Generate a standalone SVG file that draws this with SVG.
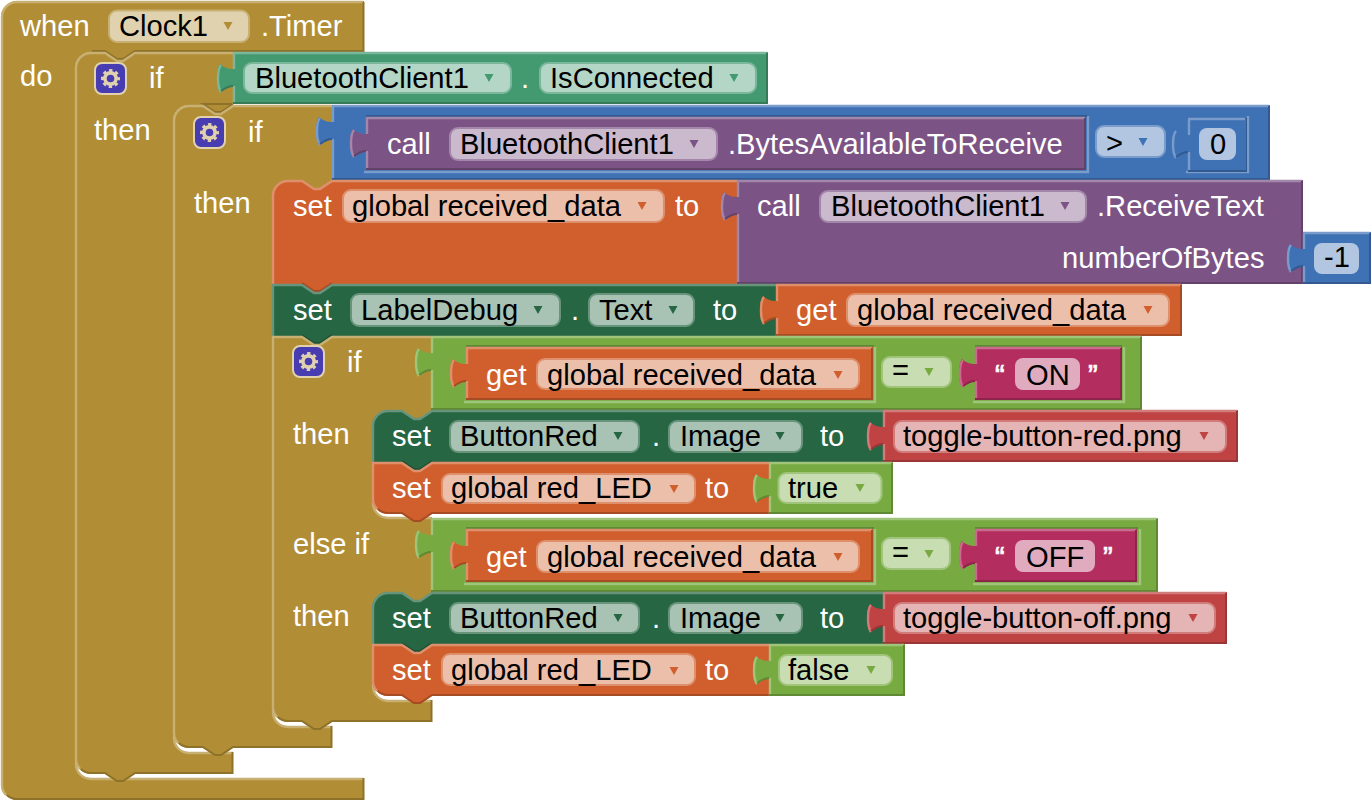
<svg xmlns="http://www.w3.org/2000/svg" width="1372" height="800" viewBox="0 0 1372 800">
<style>
text{font-family:"Liberation Sans",Arial,sans-serif;font-size:29.15px;fill:#fff}
text.k{fill:#000}
text.q{stroke:#fff;stroke-width:.7}
.gold{--c:#B18E35;--l:#C8B072;--d:#8E722A;--p:#E0D2AE}
.teal{--c:#439970;--l:#7BB89B;--d:#367A5A;--p:#B4D6C6}
.dkg{--c:#266643;--l:#67947B;--d:#1E5236;--p:#A8C2B4}
.org{--c:#D05F2D;--l:#DE8F6C;--d:#A64C24;--p:#ECBFAB}
.pur{--c:#7C5385;--l:#A387AA;--d:#63426A;--p:#CBBACE}
.blu{--c:#3F71B5;--l:#799CCB;--d:#325A91;--p:#B2C6E1}
.grn{--c:#77AB41;--l:#A0C47A;--d:#5F8934;--p:#C9DDB3}
.mag{--c:#B32D5E;--l:#CA6C8E;--d:#8F244B;--p:#E1ABBF}
.red{--c:#BF4343;--l:#D27B7B;--d:#993636;--p:#E5B4B4}
.f{fill:var(--c)}
.l{fill:none;stroke:var(--l);stroke-width:2.4}
.d{fill:none;stroke:var(--d);stroke-width:2}
.a{fill:var(--c)}
.fd{fill:var(--p);stroke:var(--l);stroke-width:2}
.fp{fill:var(--p)}
</style>
<defs>
<path id="tri" d="M-4.500,-4h9l-4.500,8z"/>
<path id="tl" d="M-12,13c-2,2-3,8-3,14c0,6 1,10 3,13"/>
<path id="td" d="M-12,39c4,-3 8,-5 12,-5"/>
<g id="gear">
<rect x="1" y="1" width="31" height="31" rx="7" fill="#483DB0" stroke="#E0D2AE" stroke-width="2"/>
<circle cx="16.500" cy="16.500" r="5.600" fill="none" stroke="#E0D2AE" stroke-width="3.600"/>
<circle cx="16.500" cy="16.500" r="8" fill="none" stroke="#E0D2AE" stroke-width="3" stroke-dasharray="3.3 2.98" stroke-dashoffset="1.65"/>
</g>
</defs>

<g id="when" class="gold">
<path class="f" d="M1,17a16,16 0 0 1 16,-16H364V52H135l-12,8-6,0-12,-8H91a16,16 0 0 0-16,16V762a16,16 0 0 0 16,16H364V800H17a16,16 0 0 1-16,-16Z"/>
<path class="l" d="M6,795a15,15 0 0 1-4,-11V17a15,15 0 0 1 15,-15H363M76,763a15,15 0 0 0 15,16H363"/>
<path class="d" d="M363.500,2V51H135l-12,8-6,0-12,-8H92M363.500,778V799H18a15,15 0 0 1-11,-4"/>
<text x="20" y="36">when</text>
<rect class="fd" x="109" y="10.500" width="140" height="31.500" rx="8"/>
<text class="k" x="119" y="36">Clock1</text><use href="#tri" x="228" y="26" class="a"/>
<text x="261" y="36">.Timer</text>
<text x="20" y="86">do</text>
</g>

<g id="if1" class="gold">
<path class="f" d="M75,68a16,16 0 0 1 16,-16H105l12,8 6,0 12,-8H233V105l-12,8-6,0-12,-8H189a16,16 0 0 0-16,16V736a16,16 0 0 0 16,16H233V774H135l-12,8-6,0-12,-8H91a16,16 0 0 1-16,-16Z"/>
<path class="l" d="M80,769a15,15 0 0 1-4,-11V68a15,15 0 0 1 15,-15H105l12,8 6,0 12,-8H233M174,737a15,15 0 0 0 15,16H233"/>
<path class="d" d="M232.500,752V773H135l-12,8-6,0-12,-8H92a15,15 0 0 1-11,-4M232,104H203l12,8 6,0 12,-8"/>
<use href="#gear" x="94" y="62"/>
<text x="149" y="88">if</text>
<text x="94" y="140">then</text>
</g>

<g id="isconnected" class="teal">
<path class="f" d="M233,52V69c-4,0-9,-1-13,-5c-2,2-3,8-3,14c0,6 1,11 3,14c4,-3 9,-6 13,-6V104H768V52Z"/>
<path class="l" d="M233,53H767M234,53V69M234,86V104"/>
<path class="d" d="M767,53V103H233"/>
<use href="#tl" x="233" y="52" class="l"/><use href="#td" x="233" y="52" class="d"/>
<rect class="fd" x="244" y="63" width="267" height="30" rx="8"/>
<text class="k" x="255" y="88">BluetoothClient1</text><use href="#tri" x="489" y="78" class="a"/>
<text x="521" y="88">.</text>
<rect class="fd" x="540" y="63" width="216" height="30" rx="8"/>
<text class="k" x="550" y="88">IsConnected</text><use href="#tri" x="734" y="78" class="a"/>
</g>

<g id="if2" class="gold">
<path class="f" d="M173,121a16,16 0 0 1 16,-16H203l12,8 6,0 12,-8H332V180l-12,8-6,0-12,-8H288a16,16 0 0 0-16,16V710a16,16 0 0 0 16,16H332V748H233l-12,8-6,0-12,-8H189a16,16 0 0 1-16,-16Z"/>
<path class="l" d="M178,743a15,15 0 0 1-4,-11V121a15,15 0 0 1 15,-15H203l12,8 6,0 12,-8H332M273,711a15,15 0 0 0 15,16H332"/>
<path class="d" d="M331.500,726V747H233l-12,8-6,0-12,-8H190a15,15 0 0 1-11,-4"/>
<use href="#gear" x="193" y="116"/>
<text x="248" y="142">if</text>
<text x="194" y="213">then</text>
</g>

<g id="compare1" class="blu">
<path class="f" d="M332,105V122c-4,0-9,-1-13,-5c-2,2-3,8-3,14c0,6 1,11 3,14c4,-3 9,-6 13,-6V180H1270V105Z"/>
<path class="l" d="M332,106H1269M333,106V122M333,139V180M364,172H1088V116M1186,172H1248V116"/>
<path class="d" d="M1269,106V179H332M366,116H1087M1188,171H1246V118"/>
<use href="#tl" x="332" y="105" class="l"/><use href="#td" x="332" y="105" class="d"/>
<rect class="fd" x="1096" y="126" width="69" height="31" rx="8"/>
<text class="k" x="1106" y="153">&gt;</text><use href="#tri" x="1143" y="142" class="a"/>
</g>

<g id="bytesavailable" class="pur">
<path class="f" d="M366,117V134c-4,0-9,-1-13,-5c-2,2-3,8-3,14c0,6 1,11 3,14c4,-3 9,-6 13,-6V170H1086V117Z"/>
<path class="l" d="M366,118H1085M367,118V134M367,151V170"/>
<path class="d" d="M1085,118V169H366"/>
<use href="#tl" x="366" y="117" class="l"/><use href="#td" x="366" y="117" class="d"/>
<text x="387" y="154">call</text>
<rect class="fd" x="450" y="128" width="267" height="32" rx="8"/>
<text class="k" x="460" y="154">BluetoothClient1</text><use href="#tri" x="694" y="144" class="a"/>
<text x="728" y="154">.BytesAvailableToReceive</text>
</g>

<g id="zero" class="blu">
<path class="f" d="M1188,118V135c-4,0-9,-1-13,-5c-2,2-3,8-3,14c0,6 1,11 3,14c4,-3 9,-6 13,-6V170H1246V118Z"/>
<path class="l" d="M1188,119H1245M1189,119V135M1189,152V170"/>
<use href="#tl" x="1188" y="118" class="l"/><use href="#td" x="1188" y="118" class="d"/>
<rect class="fp" x="1199" y="128" width="37" height="32" rx="8"/>
<text class="k" x="1210" y="154">0</text>
</g>

<g id="set-received" class="org">
<path class="f" d="M272,196a16,16 0 0 1 16,-16H302l12,8 6,0 12,-8H737V284H332l-12,8-6,0-12,-8H272Z"/>
<path class="l" d="M273,284V196a15,15 0 0 1 15,-15H302l12,8 6,0 12,-8H737"/>
<path class="d" d="M332,283l-12,8-6,0-12,-8"/>
<text x="293" y="216">set</text>
<rect class="fd" x="343" y="190" width="321" height="32" rx="8"/>
<text class="k" x="352" y="216">global received_data</text><use href="#tri" x="642" y="206" class="a"/>
<text x="675" y="216">to</text>
</g>

<g id="receivetext" class="pur">
<path class="f" d="M737,180V197c-4,0-9,-1-13,-5c-2,2-3,8-3,14c0,6 1,11 3,14c4,-3 9,-6 13,-6V284H1303V180Z"/>
<path class="l" d="M737,181H1302M738,181V197M738,214V284"/>
<path class="d" d="M1302,181V283H737"/>
<use href="#tl" x="737" y="180" class="l"/><use href="#td" x="737" y="180" class="d"/>
<text x="757" y="216">call</text>
<rect class="fd" x="820" y="191" width="266" height="31" rx="8"/>
<text class="k" x="831" y="216">BluetoothClient1</text><use href="#tri" x="1065" y="206" class="a"/>
<text x="1097" y="216">.ReceiveText</text>
<text x="1062" y="268">numberOfBytes</text>
</g>

<g id="minus-one" class="blu">
<path class="f" d="M1303,232V249c-4,0-9,-1-13,-5c-2,2-3,8-3,14c0,6 1,11 3,14c4,-3 9,-6 13,-6V284H1371V232Z"/>
<path class="l" d="M1303,233H1370M1304,233V249M1304,266V284"/>
<path class="d" d="M1370,233V283H1303"/>
<use href="#tl" x="1303" y="232" class="l"/><use href="#td" x="1303" y="232" class="d"/>
<rect class="fp" x="1314" y="243" width="45" height="31" rx="8"/>
<text class="k" x="1324" y="267">-1</text>
</g>

<g id="set-labeldebug" class="dkg">
<path class="f" d="M272,284H302l12,8 6,0 12,-8H776V336H332l-12,8-6,0-12,-8H272Z"/>
<path class="l" d="M273,336V285H302l12,8 6,0 12,-8H776"/>
<path class="d" d="M332,335l-12,8-6,0-12,-8"/>
<text x="293" y="320">set</text>
<rect class="fd" x="351" y="294" width="209" height="32" rx="8"/>
<text class="k" x="361" y="320">LabelDebug</text><use href="#tri" x="538" y="310" class="a"/>
<text x="571" y="320">.</text>
<rect class="fd" x="589" y="294" width="105" height="32" rx="8"/>
<text class="k" x="599" y="320">Text</text><use href="#tri" x="673" y="310" class="a"/>
<text x="713" y="320">to</text>
</g>

<g id="get1" class="org">
<path class="f" d="M776,284V301c-4,0-9,-1-13,-5c-2,2-3,8-3,14c0,6 1,11 3,14c4,-3 9,-6 13,-6V336H1182V284Z"/>
<path class="l" d="M776,285H1181M777,285V301M777,318V336"/>
<path class="d" d="M1181,285V335H776"/>
<use href="#tl" x="776" y="284" class="l"/><use href="#td" x="776" y="284" class="d"/>
<text x="796" y="320">get</text>
<rect class="fd" x="847" y="294" width="322" height="32" rx="8"/>
<text class="k" x="857" y="320">global received_data</text><use href="#tri" x="1148" y="310" class="a"/>
</g>

<g id="if3" class="gold">
<path class="f" d="M272,336H302l12,8 6,0 12,-8H432V410l-12,8-6,0-12,-8H388a16,16 0 0 0-16,16V501a16,16 0 0 0 16,16H432V592l-12,8-6,0-12,-8H388a16,16 0 0 0-16,16V684a16,16 0 0 0 16,16H432V722H332l-12,8-6,0-12,-8H288a16,16 0 0 1-16,-16Z"/>
<path class="l" d="M277,717a15,15 0 0 1-4,-11V337H302l12,8 6,0 12,-8H431M373,502a15,15 0 0 0 15,16H431M373,685a15,15 0 0 0 15,16H431"/>
<path class="d" d="M431.500,700V721H332l-12,8-6,0-12,-8H289a15,15 0 0 1-11,-4"/>
<use href="#gear" x="292" y="345"/>
<text x="347" y="372">if</text>
<text x="293" y="444">then</text>
<text x="293" y="554">else if</text>
<text x="293" y="626">then</text>
</g>

<g id="compare2" class="grn">
<path class="f" d="M431,336V353c-4,0-9,-1-13,-5c-2,2-3,8-3,14c0,6 1,11 3,14c4,-3 9,-6 13,-6V410H1142V336Z"/>
<path class="l" d="M431,337H1141M432,337V353M432,370V410M464,402H875V347M973,402H1124V347"/>
<path class="d" d="M1141,337V409H431M466,346H874M975,346H1122"/>
<use href="#tl" x="431" y="336" class="l"/><use href="#td" x="431" y="336" class="d"/>
<rect class="fd" x="882" y="357" width="69" height="30" rx="8"/>
<text class="k" x="892" y="380">=</text><use href="#tri" x="929" y="372" class="a"/>
</g>

<g id="get2" class="org">
<path class="f" d="M466,347V364c-4,0-9,-1-13,-5c-2,2-3,8-3,14c0,6 1,11 3,14c4,-3 9,-6 13,-6V400H873V347Z"/>
<path class="l" d="M466,348H872M467,348V364M467,381V400"/>
<path class="d" d="M872,348V399H466"/>
<use href="#tl" x="466" y="347" class="l"/><use href="#td" x="466" y="347" class="d"/>
<text x="486" y="385">get</text>
<rect class="fd" x="537" y="359" width="322" height="30" rx="8"/>
<text class="k" x="547" y="385">global received_data</text><use href="#tri" x="838" y="375" class="a"/>
</g>

<g id="text-on" class="mag">
<path class="f" d="M975,347V364c-4,0-9,-1-13,-5c-2,2-3,8-3,14c0,6 1,11 3,14c4,-3 9,-6 13,-6V400H1122V347Z"/>
<path class="l" d="M975,348H1121M976,348V364M976,381V400"/>
<path class="d" d="M1121,348V399H975"/>
<use href="#tl" x="975" y="347" class="l"/><use href="#td" x="975" y="347" class="d"/>
<text class="q" x="995" y="385">“</text>
<rect class="fp" x="1015" y="358" width="65" height="32" rx="8"/>
<text class="k" x="1026" y="385">ON</text>
<text class="q" x="1088" y="385">”</text>
</g>

<g id="set-image1" class="dkg">
<path class="f" d="M372,426a16,16 0 0 1 16,-16H402l12,8 6,0 12,-8H883V462H432l-12,8-6,0-12,-8H372Z"/>
<path class="l" d="M373,462V426a15,15 0 0 1 15,-15H402l12,8 6,0 12,-8H883"/>
<path class="d" d="M432,461l-12,8-6,0-12,-8"/>
<text x="392" y="446">set</text>
<rect class="fd" x="450" y="421" width="189" height="31" rx="8"/>
<text class="k" x="460" y="446">ButtonRed</text><use href="#tri" x="618" y="436" class="a"/>
<text x="652" y="446">.</text>
<rect class="fd" x="669" y="421" width="133" height="31" rx="8"/>
<text class="k" x="680" y="446">Image</text><use href="#tri" x="780" y="436" class="a"/>
<text x="820" y="446">to</text>
</g>

<g id="file-red" class="red">
<path class="f" d="M883,410V427c-4,0-9,-1-13,-5c-2,2-3,8-3,14c0,6 1,11 3,14c4,-3 9,-6 13,-6V462H1238V410Z"/>
<path class="l" d="M883,411H1237M884,411V427M884,444V462"/>
<path class="d" d="M1237,411V461H883"/>
<use href="#tl" x="883" y="410" class="l"/><use href="#td" x="883" y="410" class="d"/>
<rect class="fd" x="894" y="421" width="332" height="31" rx="8"/>
<text class="k" x="903" y="446">toggle-button-red.png</text><use href="#tri" x="1204" y="436" class="a"/>
</g>

<g id="set-led1" class="org">
<path class="f" d="M372,462H402l12,8 6,0 12,-8H769V514H432l-12,8-6,0-12,-8H388a16,16 0 0 1-16,-16Z"/>
<path class="l" d="M377,509a15,15 0 0 1-4,-11V463H402l12,8 6,0 12,-8H769"/>
<path class="d" d="M769,513H432l-12,8-6,0-12,-8H389a15,15 0 0 1-11,-4"/>
<text x="392" y="498">set</text>
<rect class="fd" x="442" y="474" width="253" height="29" rx="8"/>
<text class="k" x="451" y="498">global red_LED</text><use href="#tri" x="674" y="489" class="a"/>
<text x="705" y="498">to</text>
</g>

<g id="bool-true" class="grn">
<path class="f" d="M769,462V479c-4,0-9,-1-13,-5c-2,2-3,8-3,14c0,6 1,11 3,14c4,-3 9,-6 13,-6V514H893V462Z"/>
<path class="l" d="M769,463H892M770,463V479M770,496V514"/>
<path class="d" d="M892,463V513H769"/>
<use href="#tl" x="769" y="462" class="l"/><use href="#td" x="769" y="462" class="d"/>
<rect class="fd" x="778.500" y="473" width="103" height="30" rx="8"/>
<text class="k" x="788" y="498">true</text><use href="#tri" x="860" y="488" class="a"/>
</g>

<g id="compare3" class="grn">
<path class="f" d="M431,518V535c-4,0-9,-1-13,-5c-2,2-3,8-3,14c0,6 1,11 3,14c4,-3 9,-6 13,-6V592H1158V518Z"/>
<path class="l" d="M431,519H1157M432,519V535M432,552V592M464,584H875V529M973,584H1140V529"/>
<path class="d" d="M1157,519V591H431M466,528H874M975,528H1138"/>
<use href="#tl" x="431" y="518" class="l"/><use href="#td" x="431" y="518" class="d"/>
<rect class="fd" x="882" y="538" width="68" height="31" rx="8"/>
<text class="k" x="892" y="562">=</text><use href="#tri" x="929" y="554" class="a"/>
</g>

<g id="get3" class="org">
<path class="f" d="M466,529V546c-4,0-9,-1-13,-5c-2,2-3,8-3,14c0,6 1,11 3,14c4,-3 9,-6 13,-6V582H873V529Z"/>
<path class="l" d="M466,530H872M467,530V546M467,563V582"/>
<path class="d" d="M872,530V581H466"/>
<use href="#tl" x="466" y="529" class="l"/><use href="#td" x="466" y="529" class="d"/>
<text x="486" y="567">get</text>
<rect class="fd" x="537" y="541" width="322" height="31" rx="8"/>
<text class="k" x="547" y="567">global received_data</text><use href="#tri" x="838" y="557" class="a"/>
</g>

<g id="text-off" class="mag">
<path class="f" d="M975,529V546c-4,0-9,-1-13,-5c-2,2-3,8-3,14c0,6 1,11 3,14c4,-3 9,-6 13,-6V582H1137V529Z"/>
<path class="l" d="M975,530H1136M976,530V546M976,563V582"/>
<path class="d" d="M1136,530V581H975"/>
<use href="#tl" x="975" y="529" class="l"/><use href="#td" x="975" y="529" class="d"/>
<text class="q" x="995" y="567">“</text>
<rect class="fp" x="1015" y="540" width="80" height="32" rx="8"/>
<text class="k" x="1026" y="567">OFF</text>
<text class="q" x="1103" y="567">”</text>
</g>

<g id="set-image2" class="dkg">
<path class="f" d="M372,608a16,16 0 0 1 16,-16H402l12,8 6,0 12,-8H883V644H432l-12,8-6,0-12,-8H372Z"/>
<path class="l" d="M373,644V608a15,15 0 0 1 15,-15H402l12,8 6,0 12,-8H883"/>
<path class="d" d="M432,643l-12,8-6,0-12,-8"/>
<text x="392" y="628">set</text>
<rect class="fd" x="450" y="603" width="189" height="30" rx="8"/>
<text class="k" x="460" y="628">ButtonRed</text><use href="#tri" x="618" y="618" class="a"/>
<text x="652" y="628">.</text>
<rect class="fd" x="669" y="603" width="133" height="30" rx="8"/>
<text class="k" x="680" y="628">Image</text><use href="#tri" x="780" y="618" class="a"/>
<text x="820" y="628">to</text>
</g>

<g id="file-off" class="red">
<path class="f" d="M883,592V609c-4,0-9,-1-13,-5c-2,2-3,8-3,14c0,6 1,11 3,14c4,-3 9,-6 13,-6V644H1227V592Z"/>
<path class="l" d="M883,593H1226M884,593V609M884,626V644"/>
<path class="d" d="M1226,593V643H883"/>
<use href="#tl" x="883" y="592" class="l"/><use href="#td" x="883" y="592" class="d"/>
<rect class="fd" x="894" y="603" width="321" height="30" rx="8"/>
<text class="k" x="903" y="628">toggle-button-off.png</text><use href="#tri" x="1193" y="618" class="a"/>
</g>

<g id="set-led2" class="org">
<path class="f" d="M372,644H402l12,8 6,0 12,-8H769V696H432l-12,8-6,0-12,-8H388a16,16 0 0 1-16,-16Z"/>
<path class="l" d="M377,691a15,15 0 0 1-4,-11V645H402l12,8 6,0 12,-8H769"/>
<path class="d" d="M769,695H432l-12,8-6,0-12,-8H389a15,15 0 0 1-11,-4"/>
<text x="392" y="680">set</text>
<rect class="fd" x="442" y="654" width="253" height="31" rx="8"/>
<text class="k" x="451" y="680">global red_LED</text><use href="#tri" x="674" y="671" class="a"/>
<text x="705" y="680">to</text>
</g>

<g id="bool-false" class="grn">
<path class="f" d="M769,644V661c-4,0-9,-1-13,-5c-2,2-3,8-3,14c0,6 1,11 3,14c4,-3 9,-6 13,-6V696H905V644Z"/>
<path class="l" d="M769,645H904M770,645V661M770,678V696"/>
<path class="d" d="M904,645V695H769"/>
<use href="#tl" x="769" y="644" class="l"/><use href="#td" x="769" y="644" class="d"/>
<rect class="fd" x="779" y="655" width="113" height="30" rx="8"/>
<text class="k" x="788" y="680">false</text><use href="#tri" x="871" y="670" class="a"/>
</g>
</svg>
